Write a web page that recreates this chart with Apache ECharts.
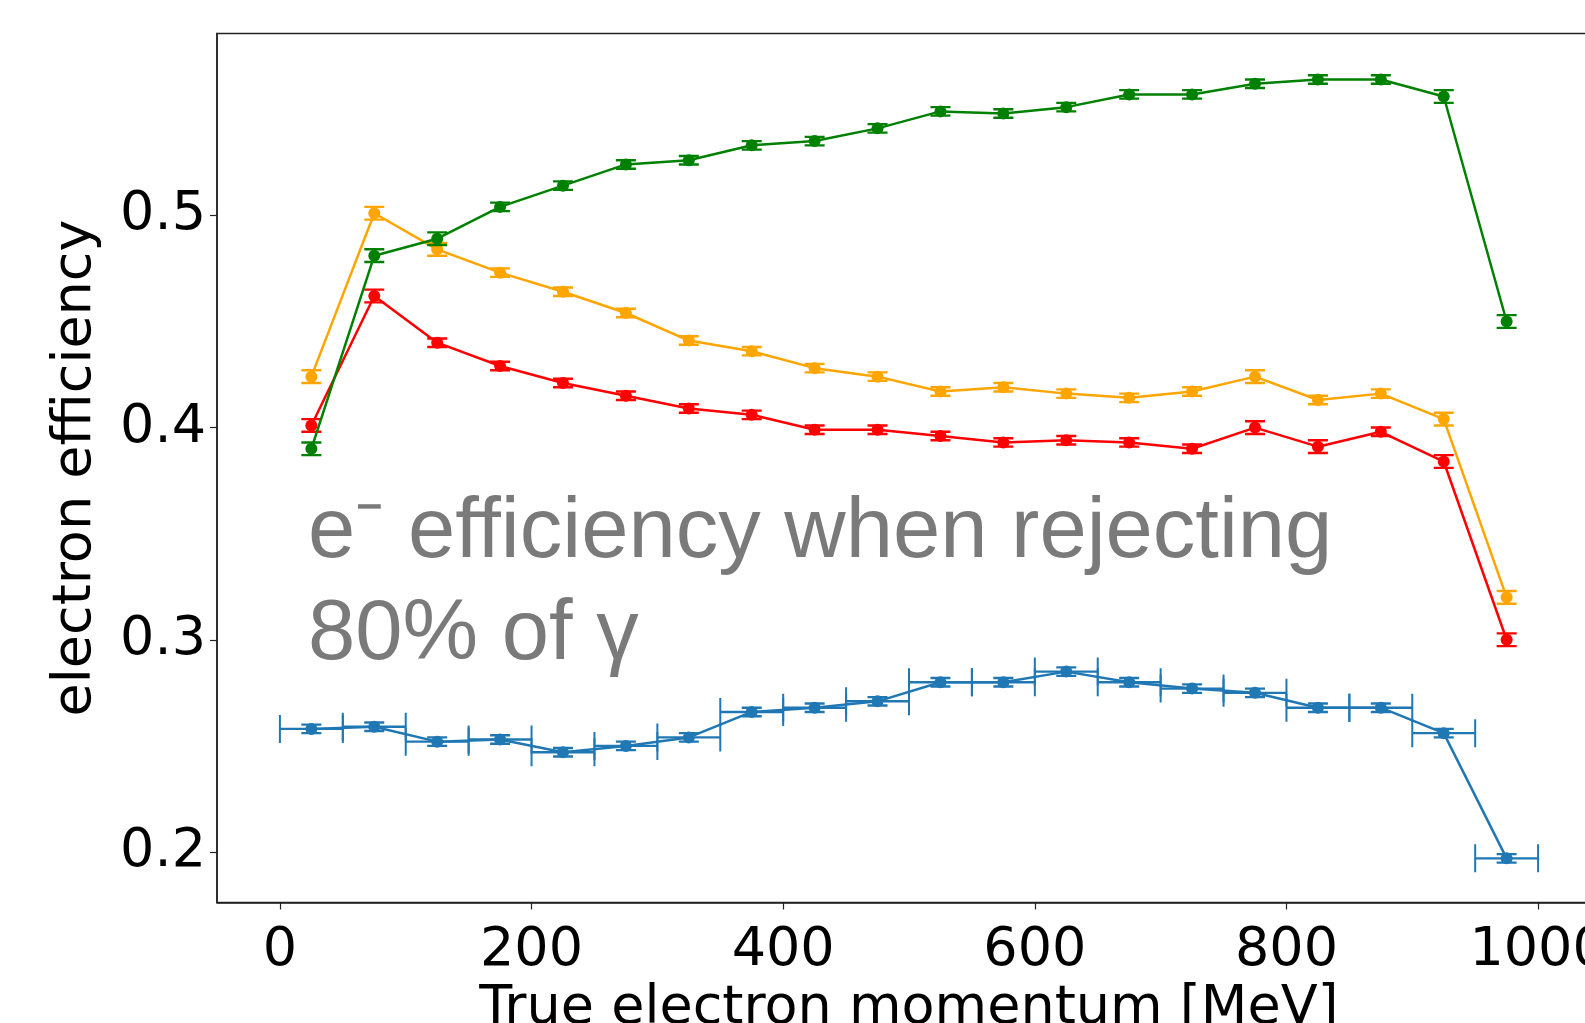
<!DOCTYPE html>
<html>
<head>
<meta charset="utf-8">
<style>
html,body{margin:0;padding:0;background:#fff;}
#chart{width:1585px;height:1023px;}
</style>
<script src="https://cdn.jsdelivr.net/npm/echarts@6/dist/echarts.min.js"></script>
</head>
<body>
<div id="chart"></div>
<script>
// Bin centres of true electron momentum [MeV]
const momentum = [25,75,125,175,225,275,325,375,425,475,525,575,625,675,725,775,825,875,925,975];
const binHalfWidth = [25,25,25,25,25,25,25,25,25,25,25,25,25,25,25,25,25,25,25,25];

const greenEff = [0.390,0.481,0.489,0.504,0.514,0.524,0.526,0.533,0.535,0.541,0.549,0.548,0.551,0.557,0.557,0.562,0.564,0.564,0.556,0.450];
const greenErr = [0.003,0.003,0.003,0.002,0.002,0.002,0.002,0.002,0.002,0.002,0.002,0.002,0.002,0.002,0.002,0.002,0.002,0.002,0.003,0.003];

const orangeEff = [0.424,0.501,0.484,0.473,0.464,0.454,0.441,0.436,0.428,0.424,0.417,0.419,0.416,0.414,0.417,0.424,0.413,0.416,0.404,0.320];
const orangeErr = [0.003,0.003,0.003,0.002,0.002,0.002,0.002,0.002,0.002,0.002,0.002,0.002,0.002,0.002,0.002,0.003,0.002,0.002,0.003,0.003];

const redEff = [0.401,0.462,0.440,0.429,0.421,0.415,0.409,0.406,0.399,0.399,0.396,0.393,0.394,0.393,0.390,0.400,0.391,0.398,0.384,0.300];
const redErr = [0.003,0.003,0.002,0.002,0.002,0.002,0.002,0.002,0.002,0.002,0.002,0.002,0.002,0.002,0.002,0.003,0.003,0.002,0.003,0.003];

const blueEff = [0.258,0.259,0.252,0.253,0.247,0.250,0.254,0.266,0.268,0.271,0.280,0.280,0.285,0.280,0.277,0.275,0.268,0.268,0.256,0.197];
const blueErr = [0.002,0.002,0.002,0.002,0.002,0.002,0.002,0.002,0.002,0.002,0.002,0.002,0.002,0.002,0.002,0.002,0.002,0.002,0.002,0.002];

const xTicks = [0,200,400,600,800,1000];
const yTicks = [0.2,0.3,0.4,0.5];

const annotationText = 'e\u207B efficiency when rejecting\n80% of \u03B3';
const xName = 'True electron momentum [MeV]';
const yName = 'electron efficiency';

const COLORS = {blue:'#1f77b4', orange:'#ffa500', red:'#ff0000', green:'#008000'};

function pts(vals){ return momentum.map((x,i)=>[x, vals[i]]); }
function errPts(vals, yerr, xerr){
  return momentum.map((x,i)=>[x, vals[i], xerr ? xerr[i] : 0, yerr[i]]);
}

function errRender(color, xCap){
  return function(params, api){
    const x = api.value(0), y = api.value(1), xe = api.value(2), ye = api.value(3);
    const top = api.coord([x, y + ye]);
    const bot = api.coord([x, y - ye]);
    const capW = 10;
    const style = {stroke: color, lineWidth: 2.4};
    const children = [
      {type:'line', shape:{x1:top[0], y1:top[1], x2:bot[0], y2:bot[1]}, style},
      {type:'line', shape:{x1:top[0]-capW, y1:top[1], x2:top[0]+capW, y2:top[1]}, style},
      {type:'line', shape:{x1:bot[0]-capW, y1:bot[1], x2:bot[0]+capW, y2:bot[1]}, style}
    ];
    if (xe > 0){
      const l = api.coord([x - xe, y]);
      const r = api.coord([x + xe, y]);
      children.push({type:'line', shape:{x1:l[0], y1:l[1], x2:r[0], y2:r[1]}, style});
      children.push({type:'line', shape:{x1:l[0], y1:l[1]-xCap, x2:l[0], y2:l[1]+xCap}, style:{stroke:color, lineWidth:2}});
      children.push({type:'line', shape:{x1:r[0], y1:r[1]-xCap, x2:r[0], y2:r[1]+xCap}, style:{stroke:color, lineWidth:2}});
    }
    return {type:'group', children};
  };
}

function lineSeries(name, vals, color, z){
  return {
    name, type:'line', data: pts(vals), z,
    symbol:'circle', symbolSize:12, showSymbol:true,
    lineStyle:{color, width:2.5}, itemStyle:{color},
    animation:false, silent:true
  };
}
function errSeries(name, vals, yerr, xerr, color, z){
  return {
    name: name + ' err', type:'custom', data: errPts(vals, yerr, xerr), z,
    renderItem: errRender(color, 14), clip:true, animation:false, silent:true,
    encode:{x:0, y:1}
  };
}

const chart = echarts.init(document.getElementById('chart'), null, {renderer:'canvas'});
chart.setOption({
  backgroundColor:'#ffffff',
  animation:false,
  grid:{left:217, top:33.5, width:1384, height:869, containLabel:false, outerBoundsMode:'none',
    show:true, borderColor:'#222', borderWidth:1.5, backgroundColor:'transparent'},
  xAxis:{
    type:'value', min:-50, max:1050,
    name: xName, nameLocation:'middle', nameGap:78,
    nameTextStyle:{fontFamily:'DejaVu Sans', fontSize:54, color:'#000'},
    axisLine:{show:true, onZero:false, lineStyle:{color:'#222', width:1.5}},
    axisTick:{show:true, length:7, inside:false, customValues:xTicks, lineStyle:{color:'#222', width:1.2}},
    axisLabel:{show:true, customValues:xTicks, fontFamily:'DejaVu Sans', fontSize:54, color:'#000', margin:21,
      formatter: v => String(v)},
    splitLine:{show:false}
  },
  yAxis:{
    type:'value', min:0.1762, max:0.5857,
    name: yName, nameLocation:'middle', nameGap:114, nameRotate:90,
    nameTextStyle:{fontFamily:'DejaVu Sans', fontSize:54, color:'#000'},
    axisLine:{show:true, onZero:false, lineStyle:{color:'#222', width:1.5}},
    axisTick:{show:true, length:7, inside:false, customValues:yTicks, lineStyle:{color:'#222', width:1.2}},
    axisLabel:{show:true, customValues:yTicks, fontFamily:'DejaVu Sans', fontSize:54, color:'#000', margin:11,
      formatter: v => v.toFixed(1)},
    splitLine:{show:false}
  },
  graphic:[{
    type:'text', left:308, top:483, z:100, silent:true,
    style:{text: annotationText, fill:'#7a7a7a', font:'85px "Liberation Sans", Arial, sans-serif', lineHeight:102}
  }],
  series:[
    lineSeries('blue', blueEff, COLORS.blue, 2),
    errSeries('blue', blueEff, blueErr, binHalfWidth, COLORS.blue, 2),
    lineSeries('orange', orangeEff, COLORS.orange, 3),
    errSeries('orange', orangeEff, orangeErr, null, COLORS.orange, 3),
    lineSeries('red', redEff, COLORS.red, 4),
    errSeries('red', redEff, redErr, null, COLORS.red, 4),
    lineSeries('green', greenEff, COLORS.green, 5),
    errSeries('green', greenEff, greenErr, null, COLORS.green, 5)
  ]
});
</script>
</body>
</html>
